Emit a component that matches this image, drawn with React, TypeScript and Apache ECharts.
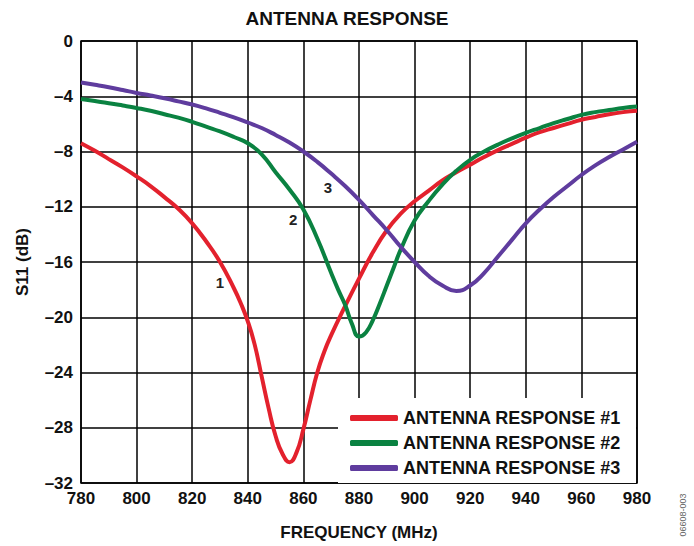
import React, { useEffect, useRef } from "react";
import * as echarts from "echarts";

// Antenna response #1 (red)
const freq1 = [
  780, 785, 790, 795, 800, 805, 810, 815, 820, 825, 830, 835, 837.5, 840, 842.5, 845, 847.5, 850, 852.5, 855,
  857.5, 860, 862.5, 865, 867.5, 870, 875, 880, 885, 890, 895, 900, 905, 910, 915, 920, 925, 930, 935, 940,
  945, 950, 955, 960, 965, 970, 975, 980,
];
const s11_1 = [
  -7.4, -7.95, -8.55, -9.15, -9.8, -10.5, -11.3, -12.15, -13.2, -14.5, -16.0, -17.9, -19.0, -20.3, -22.0, -24.3, -26.6, -28.6, -29.9, -30.5,
  -29.8, -28.1, -26.0, -24.0, -22.5, -21.3, -19.2, -17.2, -15.3, -13.7, -12.5, -11.6, -10.85, -10.1, -9.5, -8.95, -8.4, -7.9, -7.45, -7.0,
  -6.6, -6.3, -6.0, -5.7, -5.5, -5.3, -5.15, -5.05,
];

// Antenna response #2 (green)
const freq2 = [
  780, 785, 790, 795, 800, 805, 810, 815, 820, 825, 830, 835, 840, 845, 850, 855, 860, 865, 870, 872.5,
  875, 877.5, 880, 882.5, 885, 887.5, 890, 892.5, 895, 900, 905, 910, 915, 920, 925, 930, 935, 940, 945, 950,
  955, 960, 965, 970, 975, 980,
];
const s11_2 = [
  -4.2, -4.35, -4.5, -4.67, -4.85, -5.05, -5.3, -5.55, -5.85, -6.2, -6.55, -6.95, -7.4, -8.2, -9.5, -10.75, -12.2, -14.3, -16.8, -18.0,
  -19.1, -20.5, -21.4, -21.1, -20.2, -19.0, -17.7, -16.4, -15.1, -13.0, -11.6, -10.4, -9.4, -8.6, -8.0, -7.5, -7.05, -6.65, -6.3, -5.95,
  -5.65, -5.35, -5.15, -5.0, -4.85, -4.75,
];

// Antenna response #3 (purple)
const freq3 = [
  780, 785, 790, 795, 800, 805, 810, 815, 820, 825, 830, 835, 840, 845, 850, 855, 860, 865, 870, 875,
  880, 885, 890, 895, 900, 905, 910, 915, 920, 925, 930, 935, 940, 945, 950, 955, 960, 965, 970, 975, 980,
];
const s11_3 = [
  -3.0, -3.17, -3.35, -3.55, -3.76, -3.95, -4.15, -4.37, -4.6, -4.88, -5.2, -5.53, -5.9, -6.3, -6.8, -7.35, -8.0, -8.75, -9.6, -10.5,
  -11.5, -12.6, -13.7, -14.9, -16.0, -17.0, -17.7, -18.1, -17.7, -16.8, -15.6, -14.4, -13.2, -12.2, -11.3, -10.5, -9.7, -9.0, -8.4, -7.85, -7.3,
];

const seriesNames = ["ANTENNA RESPONSE #1", "ANTENNA RESPONSE #2", "ANTENNA RESPONSE #3"];
const seriesColors = ["#e3212d", "#0a8241", "#5f3c9e"];
const curveTags = ["1", "2", "3"];
const tagCoords: [number, number][] = [[830, -17.5], [856.3, -12.9], [868.8, -10.6]];

const xTicks = { min: 780, max: 980, interval: 20 };
const yTicks = { min: -32, max: 0, interval: 4 };

const FONT = '"Liberation Sans", Arial, Helvetica, sans-serif';

export default function App() {
  const ref = useRef<HTMLDivElement>(null);
  useEffect(() => {
    if (!ref.current) return;
    const chart = echarts.init(ref.current, undefined, { renderer: "svg" });
    const freqs = [freq1, freq2, freq3];
    const vals = [s11_1, s11_2, s11_3];
    const series = seriesNames.map((name, i) => ({
      name,
      type: "line",
      data: freqs[i].map((f, j) => [f, vals[i][j]]),
      smooth: 0.5,
      symbol: "none",
      showSymbol: false,
      z: 3,
      lineStyle: { color: seriesColors[i], width: 4 },
      itemStyle: { color: seriesColors[i] },
      markPoint: {
        symbol: "circle",
        symbolSize: 1,
        itemStyle: { color: "transparent" },
        label: {
          show: true,
          position: "inside",
          formatter: "{b}",
          fontSize: 15,
          fontWeight: "bold",
          fontFamily: FONT,
          color: "#222",
        },
        data: [{ name: curveTags[i], coord: tagCoords[i] }],
      },
    }));
    chart.setOption({
      animation: false,
      backgroundColor: "#fff",
      textStyle: { fontFamily: FONT },
      title: {
        text: "ANTENNA RESPONSE",
        left: "center",
        top: 9,
        padding: 0,
        textStyle: { fontSize: 19, fontWeight: "bold", color: "#111", fontFamily: FONT },
      },
      grid: {
        left: 81,
        right: 57,
        top: 41,
        bottom: 62,
        show: true,
        borderColor: "#000",
        borderWidth: 1.5,
        backgroundColor: "transparent",
      },
      legend: {
        orient: "vertical",
        left: 350,
        top: 409,
        padding: 0,
        itemGap: 7,
        itemWidth: 48,
        itemHeight: 6,
        icon: "roundRect",
        data: seriesNames,
        textStyle: { fontSize: 18, lineHeight: 18, fontWeight: "bold", color: "#111", fontFamily: FONT },
      },
      xAxis: {
        type: "value",
        min: xTicks.min,
        max: xTicks.max,
        interval: xTicks.interval,
        name: "FREQUENCY (MHz)",
        nameLocation: "middle",
        nameGap: 41,
        nameTextStyle: { fontSize: 17, fontWeight: "bold", color: "#111", fontFamily: FONT },
        axisLine: { show: false },
        axisTick: { show: false },
        axisLabel: { fontSize: 17, fontWeight: "bold", color: "#111", margin: 7, fontFamily: FONT },
        splitLine: { show: true, lineStyle: { color: "#000", width: 1.5 } },
      },
      yAxis: {
        type: "value",
        min: yTicks.min,
        max: yTicks.max,
        interval: yTicks.interval,
        name: "S11 (dB)",
        nameLocation: "middle",
        nameGap: 50,
        nameRotate: 90,
        nameTextStyle: { fontSize: 17, fontWeight: "bold", color: "#111", fontFamily: FONT },
        axisLine: { show: false },
        axisTick: { show: false },
        axisLabel: {
          fontSize: 17,
          fontWeight: "bold",
          color: "#111",
          margin: 8,
          fontFamily: FONT,
          formatter: (v: number) => (v === 0 ? "0" : "\u2013" + Math.abs(v)),
        },
        splitLine: { show: true, lineStyle: { color: "#000", width: 1.5 } },
      },
      graphic: [
        {
          type: "rect",
          z: 1,
          shape: { x: 338, y: 398, width: 298, height: 85 },
          style: { fill: "#fff" },
        },
        {
          type: "text",
          x: 683,
          y: 515,
          rotation: Math.PI / 2,
          style: {
            text: "06608-003",
            fontSize: 9,
            fill: "#666",
            fontFamily: FONT,
            textAlign: "center",
            textVerticalAlign: "middle",
          },
        },
      ],
      series,
    });
    return () => chart.dispose();
  }, []);
  return (
    <div
      ref={ref}
      style={{ position: "fixed", left: 0, top: 0, width: 694, height: 546 }}
    />
  );
}
